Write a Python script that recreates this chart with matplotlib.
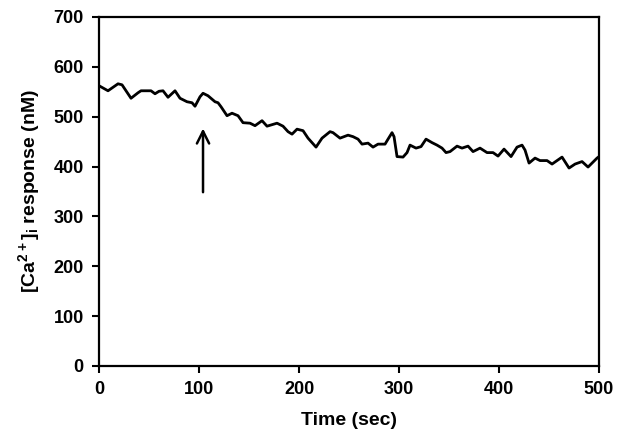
import numpy as np
import matplotlib
matplotlib.use("Agg")
import matplotlib.pyplot as plt

plt.rcParams['font.family'] = ['Liberation Sans', 'DejaVu Sans']
plt.rcParams['font.weight'] = 'bold'
plt.rcParams['mathtext.fontset'] = 'custom'
plt.rcParams['mathtext.rm'] = 'Liberation Sans:bold'
plt.rcParams['mathtext.bf'] = 'Liberation Sans:bold'
plt.rcParams['mathtext.default'] = 'bf'

# Calcium response trace
time_sec = [1, 9, 19, 23, 32, 39, 42, 52, 56, 60, 64, 69, 76, 81, 88, 93, 96,
            101, 104, 109, 116, 119, 122, 128, 133, 139, 144, 151, 156, 163,
            168, 173, 178, 184, 189, 193, 198, 204, 209, 217, 223, 231, 234,
            241, 249, 254, 259, 263, 269, 274, 279, 286, 289, 293, 295, 298,
            304, 308, 311, 317, 322, 327, 333, 338, 343, 347, 351, 358, 363,
            369, 374, 381, 388, 394, 399, 405, 412, 418, 423, 426, 430, 436,
            441, 448, 453, 463, 470, 476, 483, 489, 498, 500]
ca_nM = [561, 552, 566, 564, 537, 548, 552, 552, 546, 551, 552, 539, 552, 537,
         530, 528, 521, 540, 547, 542, 530, 528, 520, 502, 507, 502, 488, 487,
         482, 492, 481, 484, 487, 481, 470, 465, 475, 472, 457, 439, 457, 470,
         468, 457, 463, 460, 455, 445, 447, 439, 445, 445, 455, 468, 460, 420,
         419, 428, 443, 437, 440, 455, 448, 443, 437, 428, 430, 441, 437, 441,
         430, 437, 428, 428, 421, 435, 420, 439, 443, 433, 407, 417, 412, 412,
         405, 419, 397, 405, 410, 399, 417, 420]

# stimulus arrow (time, tail, head)
arrow_t = 104
arrow_tail = 343
arrow_head = 482

fig = plt.figure(figsize=(6.2, 4.46), dpi=100)
ax = fig.add_axes([0.1597, 0.1794, 0.8065, 0.7825])

ax.plot(time_sec, ca_nM, color='black', lw=2)
ax.annotate('', xy=(arrow_t, arrow_head), xytext=(arrow_t, arrow_tail),
            arrowprops=dict(arrowstyle='->', color='black', lw=1.8,
                            mutation_scale=22))

ax.set_xlim(0, 500)
ax.set_ylim(0, 700)
ax.set_xticks(np.arange(0, 501, 100))
ax.set_yticks(np.arange(0, 701, 100))
ax.tick_params(direction='out', length=5, width=1.5, labelsize=13, pad=6)
for s in ax.spines.values():
    s.set_linewidth(1.6)

ax.set_xlabel('Time (sec)', fontsize=14, fontweight='bold', labelpad=10)
ax.set_ylabel(r'[Ca$^{2+}$]$_{i}$ response (nM)', fontsize=14,
              fontweight='bold', labelpad=8)

fig.savefig('out.png', dpi=100)
